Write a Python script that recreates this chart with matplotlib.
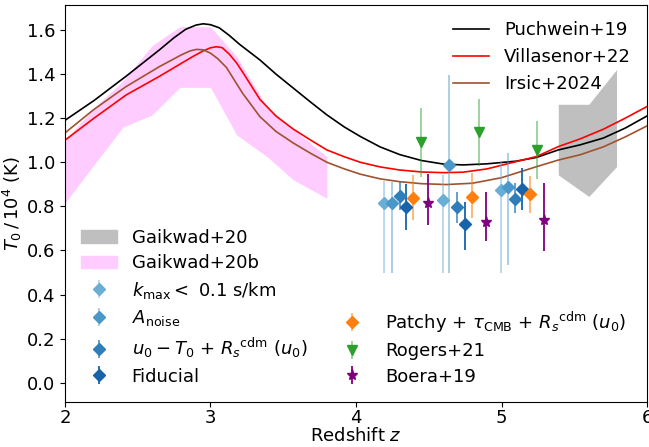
import numpy as np
import matplotlib.pyplot as plt
from matplotlib.patches import Patch

# thermal history models (T0 in 1e4 K)
z_puch = [2.0, 2.2, 2.42, 2.65, 2.75, 2.83, 2.9, 2.95, 3.0, 3.06, 3.13, 3.2, 3.34, 3.45, 3.57, 3.69, 3.80, 3.92,
          4.03, 4.165, 4.3, 4.45, 4.6, 4.735, 4.9, 5.1, 5.24, 5.39, 5.54, 5.7, 5.85, 6.0]
T_puch = [1.19, 1.28, 1.39, 1.51, 1.565, 1.603, 1.622, 1.628, 1.624, 1.61, 1.575, 1.535, 1.464, 1.40, 1.336, 1.272,
          1.215, 1.16, 1.117, 1.07, 1.035, 1.008, 0.992, 0.988, 0.993, 1.005, 1.022, 1.056, 1.079, 1.11, 1.155, 1.21]

z_vill = [2.0, 2.2, 2.42, 2.65, 2.88, 2.95, 3.0, 3.04, 3.08, 3.13, 3.18, 3.225, 3.34, 3.45, 3.57, 3.69, 3.80, 3.92,
          4.03, 4.165, 4.3, 4.45, 4.6, 4.735, 4.9, 5.1, 5.24, 5.39, 5.54, 5.7, 5.85, 6.0]
T_vill = [1.10, 1.20, 1.305, 1.39, 1.48, 1.505, 1.519, 1.524, 1.52, 1.49, 1.45, 1.405, 1.285, 1.21, 1.15, 1.10,
          1.056, 1.025, 1.0, 0.979, 0.965, 0.956, 0.953, 0.955, 0.97, 1.003, 1.026, 1.071, 1.106, 1.15, 1.20, 1.253]

z_irsic = [2.0, 2.2, 2.42, 2.65, 2.8, 2.86, 2.905, 2.95, 3.0, 3.05, 3.11, 3.22, 3.34, 3.45, 3.57, 3.69, 3.80, 3.92,
           4.03, 4.165, 4.3, 4.45, 4.62, 4.8, 5.0, 5.24, 5.39, 5.54, 5.7, 5.85, 6.0]
T_irsic = [1.133, 1.24, 1.343, 1.434, 1.487, 1.505, 1.512, 1.51, 1.495, 1.47, 1.43, 1.314, 1.207, 1.14, 1.087, 1.04,
           1.0, 0.97, 0.946, 0.925, 0.912, 0.903, 0.899, 0.905, 0.93, 0.98, 1.01, 1.034, 1.07, 1.115, 1.165]

# Gaikwad+20b band
z_g20b = [2.0, 2.19, 2.4, 2.6, 2.79, 3.0, 3.18, 3.39, 3.57, 3.8]
g20b_hi = [1.10, 1.24, 1.37, 1.53, 1.615, 1.615, 1.48, 1.25, 1.15, 1.026]
g20b_lo = [0.815, 0.98, 1.16, 1.215, 1.34, 1.34, 1.124, 1.025, 0.92, 0.837]

# Gaikwad+20 band
z_g20 = [5.39, 5.6, 5.79]
g20_hi = [1.263, 1.263, 1.42]
g20_lo = [0.943, 0.845, 0.98]

# measurements: redshift, value, lower bound, upper bound
z_kmax = [4.19, 4.596, 4.995]
T_kmax = [0.817, 0.83, 0.875]
lo_kmax = [0.5, 0.5, 0.5]
hi_kmax = [0.913, 0.943, 1.006]

z_anoise = [4.245, 4.64, 5.045]
T_anoise = [0.817, 0.987, 0.89]
lo_anoise = [0.5, 0.5, 0.535]
hi_anoise = [0.909, 1.396, 1.04]

z_u0 = [4.30, 4.697, 5.093]
T_u0 = [0.848, 0.796, 0.833]
lo_u0 = [0.784, 0.723, 0.769]
hi_u0 = [0.913, 0.863, 0.905]

z_fid = [4.344, 4.749, 5.143]
T_fid = [0.796, 0.719, 0.879]
lo_fid = [0.694, 0.603, 0.784]
hi_fid = [0.902, 0.822, 0.973]

z_patchy = [4.394, 4.795, 5.193]
T_patchy = [0.837, 0.841, 0.855]
lo_patchy = [0.739, 0.747, 0.769]
hi_patchy = [0.943, 0.951, 0.938]

z_rogers = [4.444, 4.843, 5.242]
T_rogers = [1.094, 1.136, 1.056]
lo_rogers = [0.935, 0.984, 0.923]
hi_rogers = [1.245, 1.286, 1.185]

z_boera = [4.497, 4.893, 5.29]
T_boera = [0.814, 0.731, 0.736]
lo_boera = [0.716, 0.644, 0.598]
hi_boera = [0.947, 0.867, 0.905]

fs = 13
fig = plt.figure(figsize=(6.49, 4.47), dpi=100)
ax = fig.add_axes([0.100, 0.1007, 0.897, 0.888])

ax.fill_between(z_g20b, g20b_lo, g20b_hi, color='#ffccff', lw=0)
ax.fill_between(z_g20, g20_lo, g20_hi, color='#bfbfbf', lw=0)

l1, = ax.plot(z_puch, T_puch, color='k', lw=1.2, label='Puchwein+19')
l2, = ax.plot(z_vill, T_vill, color='red', lw=1.2, label='Villasenor+22')
l3, = ax.plot(z_irsic, T_irsic, color='sienna', lw=1.2, label='Irsic+2024')


def pts(z, T, lo, hi, color, marker, label, ealpha, ms=6):
    T = np.array(T)
    yerr = [T - np.array(lo), np.array(hi) - T]
    eb = ax.errorbar(z, T, yerr=yerr, fmt=marker, color=color, ms=ms, lw=1.3,
                     label=label, zorder=3)
    for c in eb[2]:
        c.set_alpha(ealpha)
    return eb


blues = plt.cm.Blues
e1 = pts(z_kmax, T_kmax, lo_kmax, hi_kmax, blues(0.5), 'D', r'$k_{\rm max} <$ 0.1 s/km', 0.5)
e2 = pts(z_anoise, T_anoise, lo_anoise, hi_anoise, blues(0.6), 'D', r'$A_{\rm noise}$', 0.5)
e3 = pts(z_u0, T_u0, lo_u0, hi_u0, blues(0.7), 'D', r'$u_0 - T_0$ + $R_s$$^{\rm cdm}$ $(u_0)$', 0.8)
e4 = pts(z_fid, T_fid, lo_fid, hi_fid, blues(0.8), 'D', 'Fiducial', 1.0)
e5 = pts(z_patchy, T_patchy, lo_patchy, hi_patchy, 'tab:orange', 'D',
         r'Patchy + $\tau_{\rm CMB}$ + $R_s$$^{\rm cdm}$ $(u_0)$', 0.6)
e6 = pts(z_rogers, T_rogers, lo_rogers, hi_rogers, 'tab:green', 'v', 'Rogers+21', 0.5, ms=7)
e7 = pts(z_boera, T_boera, lo_boera, hi_boera, 'purple', '*', 'Boera+19', 1.0, ms=8)

ax.set_xlim(2, 6)
ax.set_ylim(-0.087, 1.713)
ax.set_xticks([2, 3, 4, 5, 6])
ax.set_yticks(np.arange(0, 1.61, 0.2))
ax.tick_params(labelsize=fs)
ax.tick_params(axis='x', pad=1.5)
ax.set_xlabel(r'Redshift $z$', fontsize=fs, labelpad=0)
ax.set_ylabel(r'$T_0\,/\,10^4$ (K)', fontsize=fs, labelpad=2)

leg1 = ax.legend(handles=[l1, l2, l3], loc='upper right', frameon=False, fontsize=fs)
ax.add_artist(leg1)
g20_patch = Patch(color='#bfbfbf', label='Gaikwad+20')
g20b_patch = Patch(color='#ffccff', label='Gaikwad+20b')
leg2 = ax.legend(handles=[g20_patch, g20b_patch, e1, e2, e3, e4], loc='lower left',
                 frameon=False, fontsize=fs, labelspacing=0.42)
ax.add_artist(leg2)
ax.legend(handles=[e5, e6, e7], loc='lower left', bbox_to_anchor=(0.435, 0.0),
          frameon=False, fontsize=fs, labelspacing=0.42)

plt.savefig('out.png', dpi=100)
